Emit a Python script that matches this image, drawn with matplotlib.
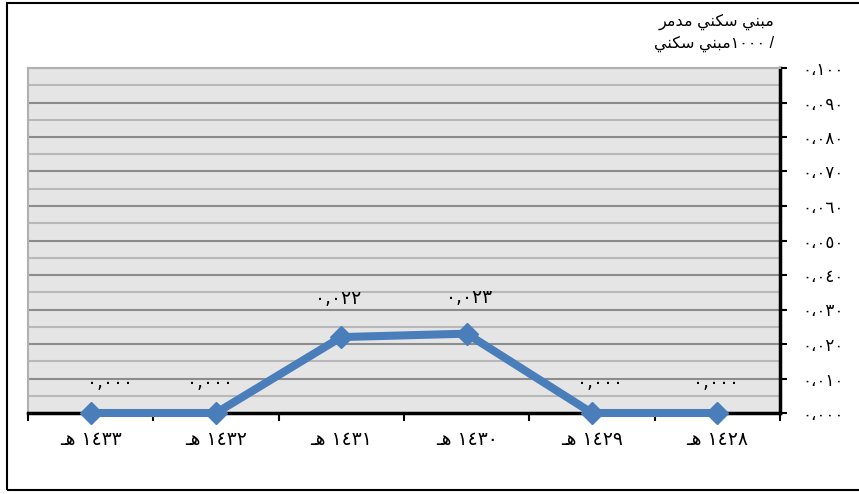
import matplotlib
matplotlib.use("Agg")
import matplotlib.pyplot as plt
from matplotlib.patches import Rectangle
from matplotlib.ticker import MultipleLocator, FixedLocator

plt.rcParams['font.family'] = ['Liberation Sans', 'DejaVu Sans']

# --- data (x order as displayed, left to right) ---
HEH = "\u0640\uFEEB"  # visual form of "هـ"
categories = ["١٤٣٣", "١٤٣٢", "١٤٣١", "١٤٣٠", "١٤٢٩", "١٤٢٨"]
values = [0.000, 0.000, 0.022, 0.023, 0.000, 0.000]
value_labels = ["٠,٠٠٠", "٠,٠٠٠", "٠,٠٢٢", "٠,٠٢٣", "٠,٠٠٠", "٠,٠٠٠"]
y_ticks = [0.00, 0.01, 0.02, 0.03, 0.04, 0.05, 0.06, 0.07, 0.08, 0.09, 0.10]
y_tick_labels = ["٠،٠٠٠", "٠،٠١٠", "٠،٠٢٠", "٠،٠٣٠", "٠،٠٤٠", "٠،٠٥٠",
                 "٠،٠٦٠", "٠،٠٧٠", "٠،٠٨٠", "٠،٠٩٠", "٠،١٠٠"]
# axis title (visual order, shaped presentation forms)
title_line1 = "\uFEAE\uFEE3\uFEAA\uFEE3 \uFEF2\uFEE8\uFEDC\uFEB3 \uFEF2\uFEE8\uFE92\uFEE3"  # مبني سكني مدمر
title_line2 = "\uFEF2\uFEE8\uFEDC\uFEB3 \uFEF2\uFEE8\uFE92\uFEE3١٠٠٠ /"  # / ١٠٠٠مبني سكني

W, H = 859, 494
fig = plt.figure(figsize=(W / 100, H / 100), dpi=100)

# outer border
fig.patches.append(Rectangle((7 / W, 1 - 490 / H), 1.2, (490 - 3) / H,
                             transform=fig.transFigure, fill=False,
                             edgecolor='black', linewidth=1.5))

ax = fig.add_axes([28 / W, 1 - 413 / H, (780 - 28) / W, (413 - 68) / H])
ax.set_facecolor('#e5e5e5')

x = list(range(len(categories)))
ax.plot(x, values, color='#4a7ebb', linewidth=5.8, marker='D',
        markersize=11.5, markerfacecolor='#4a7ebb', markeredgecolor='#4a7ebb',
        zorder=5, clip_on=False)

label_dx = [14, -4, -2, 2, 6, -1]
label_dy = [22, 22, 28, 26, 22, 22]
for xi, v, lab, dx, dy in zip(x, values, value_labels, label_dx, label_dy):
    ax.annotate(lab, (xi, v), xytext=(dx, dy), textcoords='offset points',
                ha='center', va='center', fontsize=13.5, color='black',
                family=['DejaVu Sans'])

ax.set_xlim(-0.5, len(categories) - 0.5)
ax.set_ylim(0, 0.1)

# grid
ax.yaxis.set_major_locator(FixedLocator(y_ticks))
ax.yaxis.set_minor_locator(MultipleLocator(0.005))
ax.grid(True, which='minor', axis='y', color='#b8b8b8', linewidth=1.5, zorder=1)
ax.grid(True, which='major', axis='y', color='#8c8c8c', linewidth=1.5, zorder=1)
ax.set_axisbelow(True)

ax.yaxis.tick_right()
ax.set_yticklabels(y_tick_labels, fontsize=12, family=['DejaVu Sans'])
ax.tick_params(axis='y', which='major', direction='out', length=5, width=1.5,
               pad=11, color='black')
ax.tick_params(axis='y', which='minor', length=0)
for t in ax.get_yticklabels():
    t.set_horizontalalignment('left')

# x ticks at category boundaries, labels at centers
ax.set_xticks([i - 0.5 for i in range(len(categories) + 1)])
ax.set_xticklabels([])
ax.set_xticks(x, minor=True)
ax.set_xticklabels([HEH + " " + c for c in categories], minor=True,
                   fontsize=13.5, family=['DejaVu Sans'])
ax.tick_params(axis='x', which='major', direction='out', length=6, width=1.5,
               color='black')
ax.tick_params(axis='x', which='minor', length=0, pad=12)

for side in ['left', 'top']:
    ax.spines[side].set_color('#b0b0b0')
    ax.spines[side].set_linewidth(1.5)
for side in ['right', 'bottom']:
    ax.spines[side].set_color('black')
    ax.spines[side].set_linewidth(2.5)

fig.text(774 / W, 1 - 22 / H, title_line1, ha='right', va='center', fontsize=11.5)
fig.text(774 / W, 1 - 44 / H, title_line2, ha='right', va='center', fontsize=11.5)

fig.savefig('out.png', dpi=100)
